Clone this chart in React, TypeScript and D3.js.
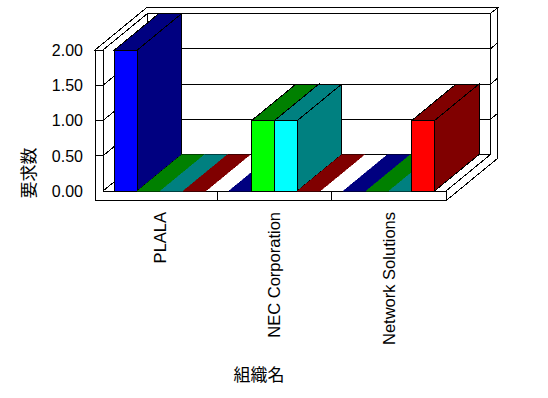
import React from "react";
import * as d3 from "d3";

const categories = ["PLALA", "NEC Corporation", "Network Solutions"];
const seriesNames = ["S1", "S2", "S3", "S4"];
const seriesValues = [
  [2, 0, 0],
  [0, 1, 0],
  [0, 1, 0],
  [0, 0, 1],
];
const frontColors = ["#0000FF", "#00FF00", "#00FFFF", "#FF0000"];
const darkColors = ["#000080", "#008000", "#008080", "#800000"];
const yTicks = [0, 0.5, 1, 1.5, 2];
const yTitle = "要求数";
const xTitle = "組織名";

const W = 548;
const H = 398;
const DX = 44.5;
const DY = 36.5;
const T = 0.162; // back wall thickness in depth units
const SLAB = 9.7;
const WALL_L = 95;
const PLOT_L = 103;
const PLOT_R = 446;

export default function App() {
  const y = d3.scaleLinear().domain([0, 2]).range([191, 50]);
  const x = d3.scaleBand<string>().domain(categories).range([PLOT_L, PLOT_R]).padding(0);
  const s = d3
    .scaleBand<string>()
    .domain(seriesNames)
    .range([0, x.bandwidth()])
    .paddingInner(0)
    .paddingOuter(0.5);

  const P = (px: number, py: number, z: number): [number, number] => [px + z * DX, py - z * DY];
  const poly = (pts: [number, number][]) => pts.map((p) => p.join(",")).join(" ");

  const y0 = y(0);
  const yTop = y(2);
  const stroke = { stroke: "#000", strokeWidth: 1 };

  // structure polygons
  const backFront = poly([P(PLOT_L, yTop, 1), P(PLOT_R, yTop, 1), P(PLOT_R, y0, 1), P(PLOT_L, y0, 1)]);
  const topOutline = poly([
    P(WALL_L, yTop, 0),
    P(PLOT_L, yTop, 0),
    P(PLOT_L, yTop, 1),
    P(PLOT_R, yTop, 1),
    P(PLOT_R, yTop, 1 + T),
    P(WALL_L, yTop, 1 + T),
  ]);
  const floorTop = poly([P(PLOT_L, y0, 0), P(PLOT_R, y0, 0), P(PLOT_R, y0, 1), P(PLOT_L, y0, 1)]);
  const leftInner = poly([P(PLOT_L, yTop, 0), P(PLOT_L, y0, 0), P(PLOT_L, y0, 1), P(PLOT_L, yTop, 1)]);
  const frontFace = poly([
    P(WALL_L, yTop, 0),
    P(PLOT_L, yTop, 0),
    P(PLOT_L, y0, 0),
    P(PLOT_R, y0, 0),
    P(PLOT_R, y0 + SLAB, 0),
    P(WALL_L, y0 + SLAB, 0),
  ]);
  const rightFace = poly([
    P(PLOT_R, y0, 0),
    P(PLOT_R, y0 + SLAB, 0),
    P(PLOT_R, y0 + SLAB, 1 + T),
    P(PLOT_R, yTop, 1 + T),
    P(PLOT_R, yTop, 1),
    P(PLOT_R, y0, 1),
  ]);

  const gridTicks = yTicks.filter((t) => t > 0 && t < 2);

  const bars: React.ReactNode[] = [];
  categories.forEach((c, ci) => {
    seriesNames.forEach((sn, si) => {
      const v = seriesValues[si][ci];
      const x0 = (x(c) as number) + (s(sn) as number);
      const x1 = x0 + s.bandwidth();
      const yv = y(v);
      const top = poly([P(x0, yv, 0), P(x1, yv, 0), P(x1, yv, 1), P(x0, yv, 1)]);
      if (v === 0) {
        bars.push(
          <polygon key={`b${ci}-${si}`} points={top} fill={darkColors[si]} stroke={darkColors[si]} strokeWidth={0.5} />
        );
      } else {
        const side = poly([P(x1, yv, 0), P(x1, yv, 1), P(x1, y0, 1), P(x1, y0, 0)]);
        const front = poly([P(x0, yv, 0), P(x1, yv, 0), P(x1, y0, 0), P(x0, y0, 0)]);
        bars.push(
          <g key={`b${ci}-${si}`}>
            <polygon points={top} fill={darkColors[si]} {...stroke} />
            <polygon points={side} fill={darkColors[si]} {...stroke} />
            <polygon points={front} fill={frontColors[si]} {...stroke} />
          </g>
        );
      }
    });
  });

  const font = "'Liberation Sans', Arial, sans-serif";
  const cjk = "'Noto Sans CJK JP', sans-serif";

  return (
    <svg
      width={W}
      height={H}
      style={{ position: "fixed", left: 0, top: 0, background: "#fff" }}
      shapeRendering="crispEdges"
    >
      <rect x={0} y={0} width={W} height={H} fill="#fff" />
      <polygon points={backFront} fill="#fff" {...stroke} />
      <polygon points={topOutline} fill="#fff" {...stroke} />
      <polygon points={floorTop} fill="#fff" {...stroke} />
      <polygon points={leftInner} fill="#fff" {...stroke} />
      <polygon points={rightFace} fill="#fff" {...stroke} />
      <polygon points={frontFace} fill="#fff" {...stroke} />
      {gridTicks.map((t) => {
        const a = P(PLOT_L, y(t), 1);
        const b = P(PLOT_R, y(t), 1);
        const c = P(PLOT_R, y(t), 1 + T);
        const l0 = P(PLOT_L, y(t), 0);
        const lf = P(WALL_L, y(t), 0);
        return (
          <g key={`g${t}`}>
            <line x1={a[0]} y1={a[1]} x2={b[0]} y2={b[1]} {...stroke} />
            <line x1={b[0]} y1={b[1]} x2={c[0]} y2={c[1]} {...stroke} />
            <line x1={l0[0]} y1={l0[1]} x2={a[0]} y2={a[1]} {...stroke} />
            <line x1={lf[0]} y1={lf[1]} x2={l0[0]} y2={l0[1]} {...stroke} />
          </g>
        );
      })}
      {categories.slice(1).map((c) => (
        <line key={`d${c}`} x1={x(c)} x2={x(c)} y1={y0} y2={y0 + SLAB} {...stroke} />
      ))}
      {bars}
      {yTicks.map((t) => (
        <text
          key={`t${t}`}
          x={83}
          y={y(t)}
          dy="0.36em"
          textAnchor="end"
          fontFamily={font}
          fontSize={16}
          fill="#000"
        >
          {t.toFixed(2)}
        </text>
      ))}
      {categories.map((c) => {
        const cx = (x(c) as number) + x.bandwidth() / 2;
        return (
          <text
            key={`c${c}`}
            transform={`translate(${cx},212) rotate(-90)`}
            dy="0.36em"
            textAnchor="end"
            fontFamily={font}
            fontSize={16.5}
            fill="#000"
          >
            {c}
          </text>
        );
      })}
      <text
        transform="translate(29,173) rotate(-90)"
        textAnchor="middle"
        dy="0.36em"
        fontFamily={cjk}
        fontSize={17}
        fill="#000"
      >
        {yTitle}
      </text>
      <text x={259} y={375} dy="0.36em" textAnchor="middle" fontFamily={cjk} fontSize={17} fill="#000">
        {xTitle}
      </text>
    </svg>
  );
}
